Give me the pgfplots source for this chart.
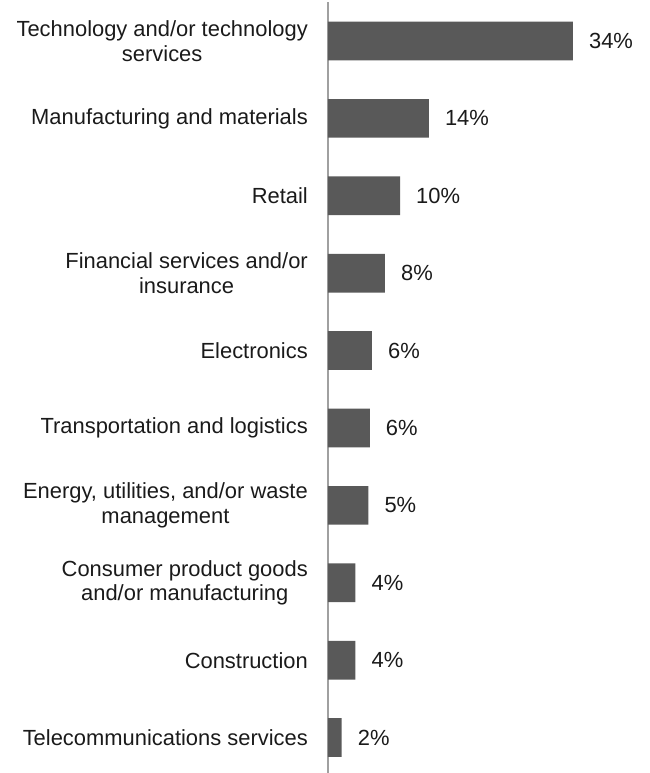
\documentclass[border=0pt]{standalone}
\usepackage{fontspec}
\setmainfont{Liberation Sans}
\usepackage{pgfplots}
\usepackage{pgfplotstable}
\pgfplotsset{compat=1.18}

\definecolor{barcol}{HTML}{595959}
\definecolor{axcol}{HTML}{A0A0A0}
\definecolor{txtcol}{HTML}{1A1A1A}

% y = row (top is 9), val = bar length read off the picture, lbl = printed label
\pgfplotstableread{
y val lbl
9 34.0 34
8 14.0 14
7 10.0 10
6 7.9 8
5 6.1 6
4 5.8 6
3 5.6 5
2 3.8 4
1 3.8 4
0 1.9 2
}\industry

\begin{document}
\begin{tikzpicture}[font=\fontsize{22}{24.5}\selectfont, text=txtcol]
\begin{axis}[
  name=ax,
  scale only axis,
  width=322bp, height=774bp,
  xmin=0, xmax=44.7,
  ymin=-0.5, ymax=9.5,
  axis x line=none,
  axis y line=left,
  y axis line style={-, draw=axcol, line width=1.5bp},
  major tick length=0pt,
  ytick={0,...,9},
  yticklabels={
    {Telecommunications services},
    {Construction},
    {Consumer product goods\\and/or manufacturing},
    {Energy, utilities, and/or waste\\management},
    {Transportation and logistics},
    {Electronics},
    {Financial services and/or\\insurance},
    {Retail},
    {Manufacturing and materials},
    {Technology and/or technology\\services}
  },
  yticklabel style={align=center, anchor=east, inner sep=0pt, xshift=-20bp},
  xbar,
  bar width=0.5,
  clip=false,
  point meta=explicit symbolic,
  nodes near coords={\pgfplotspointmeta\%},
  every node near coord/.append style={anchor=west, inner sep=0pt, xshift=16bp, text=txtcol},
]
\addplot[fill=barcol, draw=none] table[x=val, y=y, meta=lbl] {\industry};
\end{axis}
\pgfresetboundingbox
\path[use as bounding box] ([xshift=-328bp, yshift=2.3bp]ax.north west) rectangle ([xshift=322bp, yshift=-770.7bp]ax.north west);
\end{tikzpicture}
\end{document}
